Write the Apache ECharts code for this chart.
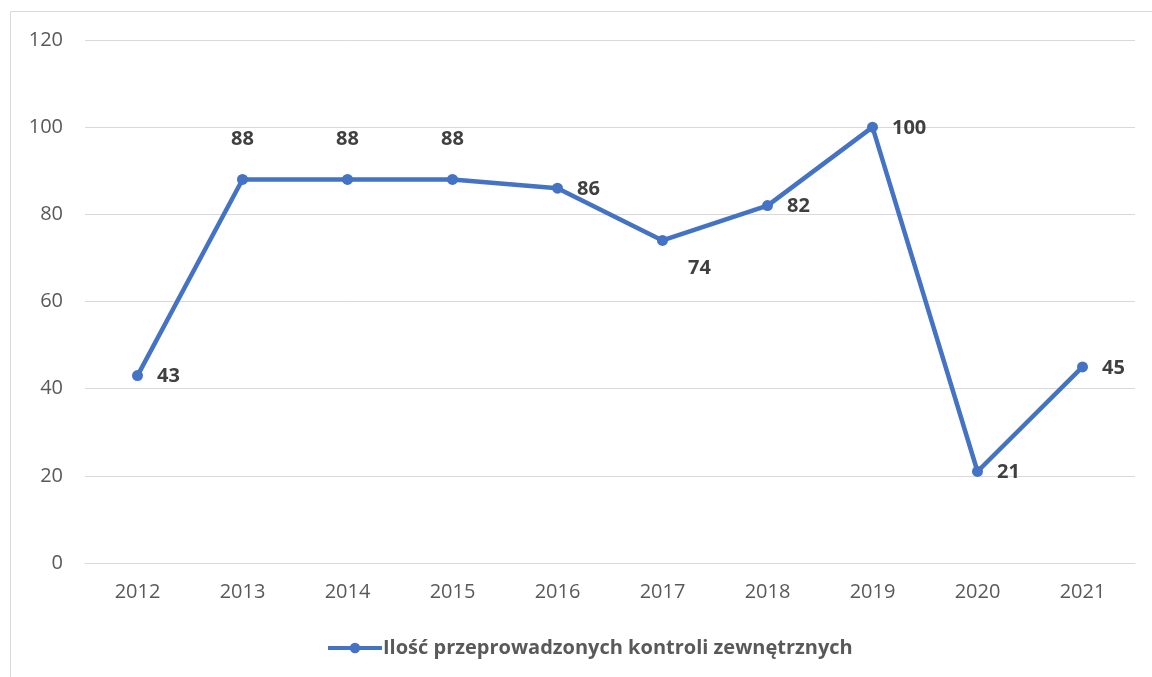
<!DOCTYPE html>
<html>
<head>
<meta charset="utf-8">
<script src="https://cdn.jsdelivr.net/npm/echarts@6/dist/echarts.min.js"></script>
<style>
  html, body { margin: 0; padding: 0; background: #fff; }
  #chart { width: 1152px; height: 677px; }
</style>
</head>
<body>
<div id="chart"></div>
<script>
const years = ['2012', '2013', '2014', '2015', '2016', '2017', '2018', '2019', '2020', '2021']
const kontrole = [43, 88, 88, 88, 86, 74, 82, 100, 21, 45]
// where each value label sits relative to its point
const labelPlace = ['right', 'top', 'top', 'top', 'right', 'below', 'right', 'right', 'right', 'right']
const seriesName = 'Ilość przeprowadzonych kontroli zewnętrznych'

const fontFam = '"Open Sans", "Noto Sans", sans-serif'

let chart = echarts.init(document.getElementById('chart'))

let points = kontrole.map((v, i) => {
  let place = labelPlace[i]
  let label = { position: 'right', distance: 14, offset: [0, 1] }
  if (place === 'top') {
    label = { position: 'top', distance: 25 }
  } else if (place === 'below') {
    label = { position: 'right', distance: 20, offset: [0, 28] }
  }
  return { value: v, label: label }
})

let option = {
  animation: false,
  graphic: [
    {
      type: 'rect',
      shape: { x: 10.5, y: 11.5, width: 1200, height: 700 },
      style: { fill: 'none', stroke: '#d9d9d9', lineWidth: 1 },
      silent: true
    }
  ],
  grid: {
    left: 85,
    right: 17,
    top: 40,
    bottom: 114
  },
  legend: {
    data: [seriesName],
    left: 326,
    top: 638,
    padding: 0,
    itemWidth: 54,
    itemHeight: 13,
    itemGap: 10,
    lineStyle: { width: 4 },
    textStyle: {
      fontFamily: fontFam,
      fontSize: 20,
      fontWeight: 'bold',
      color: '#595959',
      padding: [0, 0, 0, -4]
    }
  },
  xAxis: {
    type: 'category',
    data: years,
    boundaryGap: true,
    axisLine: { show: true, lineStyle: { color: '#d9d9d9', width: 1 } },
    axisTick: { show: false },
    axisLabel: {
      margin: 19,
      fontFamily: fontFam,
      fontSize: 20,
      color: '#595959'
    }
  },
  yAxis: {
    type: 'value',
    min: 0,
    max: 120,
    interval: 20,
    axisLine: { show: false },
    axisTick: { show: false },
    splitLine: { lineStyle: { color: '#d9d9d9', width: 1 } },
    axisLabel: {
      margin: 22,
      fontFamily: fontFam,
      fontSize: 20,
      color: '#595959'
    }
  },
  series: [
    {
      name: seriesName,
      type: 'line',
      data: points,
      symbol: 'circle',
      symbolSize: 11,
      color: '#4472c4',
      lineStyle: { width: 4.5, color: '#4472c4' },
      itemStyle: { color: '#4472c4' },
      label: {
        show: true,
        fontFamily: fontFam,
        fontSize: 20,
        fontWeight: 'bold',
        color: '#404040'
      }
    }
  ]
}

chart.setOption(option)
</script>
</body>
</html>
